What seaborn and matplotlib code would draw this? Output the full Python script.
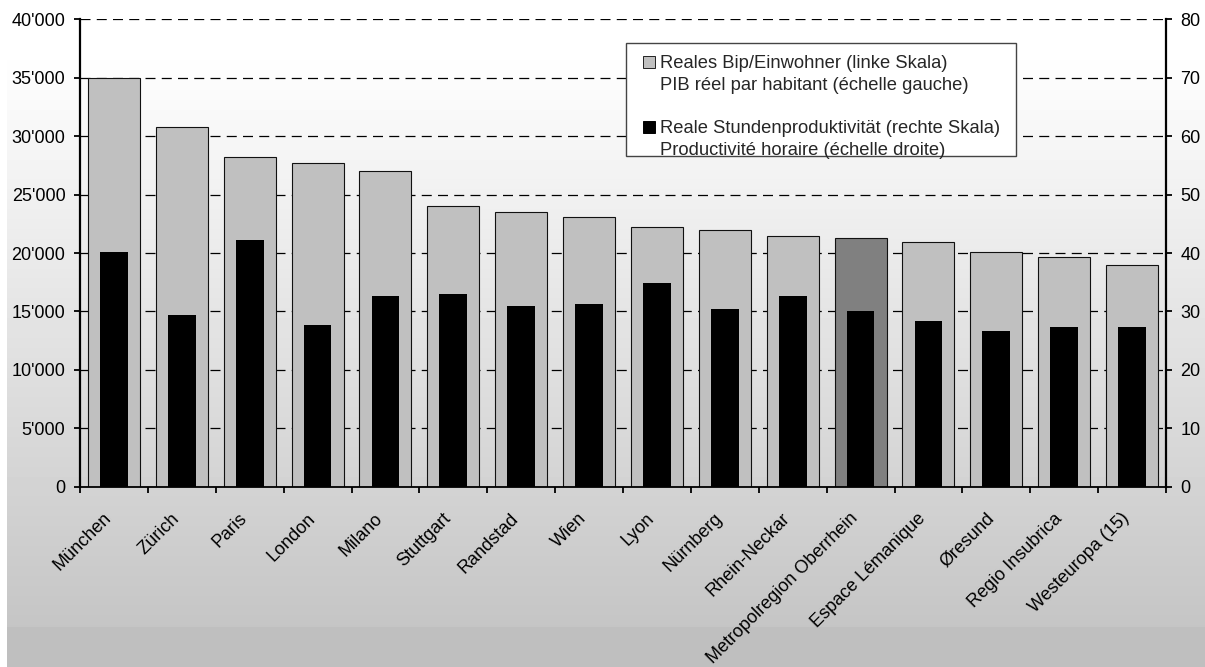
import numpy as np
import pandas as pd
import matplotlib
matplotlib.use("Agg")
import matplotlib.pyplot as plt
import matplotlib.transforms as mtransforms
import seaborn as sns
from matplotlib.patches import Rectangle, Patch
from matplotlib.ticker import FuncFormatter, FixedLocator

# ---------------- data ----------------
regions = ["München", "Zürich", "Paris", "London", "Milano", "Stuttgart",
           "Randstad", "Wien", "Lyon", "Nürnberg", "Rhein-Neckar",
           "Metropolregion Oberrhein", "Espace Lémanique", "Øresund",
           "Regio Insubrica", "Westeuropa (15)"]
gdp_per_capita = [35000, 30800, 28200, 27700, 27000, 24000, 23500, 23100,
                  22250, 21950, 21450, 21250, 20900, 20100, 19700, 18950]
productivity = [40.2, 29.4, 42.2, 27.7, 32.6, 33.0, 31.0, 31.2,
                34.9, 30.4, 32.6, 30.0, 28.3, 26.7, 27.3, 27.3]
highlight = "Metropolregion Oberrhein"
legend_labels = ["Reales Bip/Einwohner (linke Skala)",
                 "PIB réel par habitant (échelle gauche)",
                 " ",
                 "Reale Stundenproduktivität (rechte Skala)",
                 "Productivité horaire (échelle droite)"]

W, H = 1205, 667
FS = 13

sns.set_theme(style="white")
plt.rcParams['font.family'] = ['Liberation Sans', 'DejaVu Sans']

fig = plt.figure(figsize=(W / 100, H / 100), dpi=100)

# ---------------- gradient background ----------------
bg = fig.add_axes([0, 0, 1, 1], zorder=-10)
rows = np.arange(H)
grad = np.where(rows < 50, 1.0,
                1.0 - np.clip((rows - 50) / (627 - 50), 0, 1) * (1.0 - 197 / 255))
grad = np.where(rows >= 627, 191 / 255, grad)
img = np.repeat(grad[:, None], W, axis=1)
img[:, :7] = 1.0
bg.imshow(img, aspect='auto', cmap='gray', vmin=0, vmax=1,
          extent=[0, 1, 0, 1], interpolation='nearest')
bg.set_axis_off()

# ---------------- main axes ----------------
ax = fig.add_axes([80 / W, 1 - 486.7 / H, 1086 / W, 467.4 / H])
ax.patch.set_visible(False)

df = pd.DataFrame({"region": regions, "gdp": gdp_per_capita, "prod": productivity})
colors = ['#808080' if r == highlight else '#c0c0c0' for r in regions]

sns.barplot(data=df, x="region", y="gdp", hue="region", palette=colors,
            legend=False, width=0.766, edgecolor="#111111", linewidth=0.8,
            saturation=1, ax=ax)

ax2 = ax.twinx()
sns.barplot(data=df, x="region", y="prod", color="black", width=0.41,
            linewidth=0, saturation=1, ax=ax2)

ax.set_xlim(-0.5, len(regions) - 0.5)
ax.set_ylim(0, 40000)
ax2.set_ylim(0, 80)
ax.set_yticks(np.arange(0, 40001, 5000))
ax2.set_yticks(np.arange(0, 81, 10))
ax.yaxis.set_major_formatter(FuncFormatter(lambda v, p: f"{int(v):,}".replace(",", "'")))

ax.set_axisbelow(True)
ax.yaxis.grid(True, color="black", linestyle=(0, (8, 5)), linewidth=0.9)
ax.xaxis.grid(False)
ax2.grid(False)

for s in ["top", "right"]:
    ax.spines[s].set_visible(False)
for s in ["top", "left", "bottom"]:
    ax2.spines[s].set_visible(False)
ax.spines["left"].set_color("black")
ax.spines["left"].set_linewidth(1.6)
ax.spines["bottom"].set_color("black")
ax.spines["bottom"].set_linewidth(1.3)
ax2.spines["right"].set_color("black")
ax2.spines["right"].set_linewidth(1.6)

ax.tick_params(axis="y", left=True, length=4.5, width=1.3, color="black",
               direction="out", labelsize=FS, labelcolor="black", pad=6)
ax2.tick_params(axis="y", right=True, length=4.5, width=1.3, color="black",
                direction="out", labelsize=FS, labelcolor="black", pad=6)

ax.set_xticks(range(len(regions)))
ax.set_xticklabels(regions, rotation=45, ha="right", va="center",
                   rotation_mode="anchor", fontsize=FS, color="black")
ax.tick_params(axis="x", which="major", length=0, pad=21)
ax.xaxis.set_minor_locator(FixedLocator(np.arange(-0.5, len(regions), 1)))
ax.tick_params(axis="x", which="minor", bottom=True, length=4.5, width=1.3,
               color="black", direction="out")
shift = mtransforms.ScaledTranslation(-5 / 100, 0, fig.dpi_scale_trans)
for lab in ax.get_xticklabels():
    lab.set_transform(lab.get_transform() + shift)
ax.set_xlabel("")
ax.set_ylabel("")
ax2.set_ylabel("")

# ---------------- legend ----------------
box = Rectangle((626 / W, 1 - 155.7 / H), 389.7 / W, 113 / H,
                transform=fig.transFigure, facecolor="white",
                edgecolor="#444444", linewidth=1.0, zorder=4)
fig.patches.append(box)

blank = Patch(facecolor="none", edgecolor="none")
handles = [Patch(facecolor="#c0c0c0", edgecolor="#222222", linewidth=0.7),
           blank, blank,
           Patch(facecolor="black", edgecolor="black", linewidth=0.7),
           blank]
leg = fig.legend(handles, legend_labels, loc="upper left",
                 bbox_to_anchor=(643 / W, 1 - 55.5 / H), frameon=False,
                 fontsize=13.2, handlelength=0.66, handleheight=0.66,
                 handletextpad=0.25, labelspacing=0.25, borderpad=0,
                 borderaxespad=0)
leg.set_zorder(5)

fig.savefig("out.png", dpi=100)
